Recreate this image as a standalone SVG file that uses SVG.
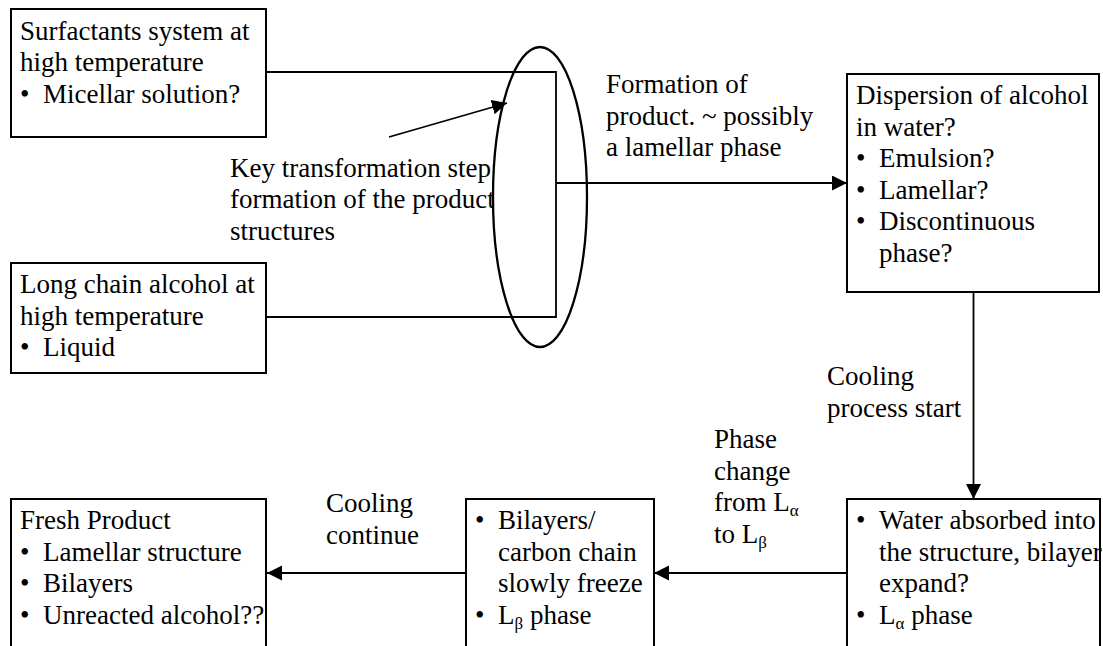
<svg xmlns="http://www.w3.org/2000/svg" width="1103" height="646" viewBox="0 0 1103 646">
<style>
text { font-family: "Liberation Serif", "Times New Roman", serif; font-size: 27px; fill: #000; }
.box { fill: #fff; stroke: #000; stroke-width: 2; }
.ln { fill: none; stroke: #000; stroke-width: 1.8; }
.sub { font-size: 17px; }
</style>
<defs>
<marker id="ah" markerUnits="userSpaceOnUse" markerWidth="16" markerHeight="16" refX="15" refY="7.5" orient="auto">
<path d="M0,0 L15,7.5 L0,15 z" fill="#000"/>
</marker>
<clipPath id="keyclip"><rect x="0" y="150" width="494" height="110"/></clipPath>
</defs>
<g id="connectors">
<polyline class="ln" points="266,72 556,72 556,317 266,317"/>
<line class="ln" x1="556" y1="183" x2="847" y2="183" marker-end="url(#ah)"/>
<line class="ln" x1="389" y1="137" x2="507" y2="103" marker-end="url(#ah)"/>
<line class="ln" x1="973.5" y1="292" x2="973.5" y2="499" marker-end="url(#ah)"/>
<line class="ln" x1="847" y1="573" x2="654" y2="573" marker-end="url(#ah)"/>
<line class="ln" x1="466" y1="573" x2="267" y2="573" marker-end="url(#ah)"/>
</g>
<g id="surfactants">
<rect class="box" x="11" y="9" width="255" height="128"/>
<text x="20" y="39.5">Surfactants system at</text>
<text x="20" y="71">high temperature</text>
<text x="20" y="102.5">•</text><text x="43" y="102.5">Micellar solution?</text>
</g>
<g id="alcohol">
<rect class="box" x="11" y="263" width="255" height="110"/>
<text x="20" y="293">Long chain alcohol at</text>
<text x="20" y="324.5">high temperature</text>
<text x="20" y="356">•</text><text x="43" y="356">Liquid</text>
</g>
<g id="key-step">
<g clip-path="url(#keyclip)">
<text x="230" y="176.5">Key transformation step:</text>
<text x="230" y="208">formation of the product</text>
</g>
<text x="230" y="239.5">structures</text>
<ellipse cx="540" cy="197" rx="47" ry="150" fill="none" stroke="#000" stroke-width="2.3"/>
</g>
<g id="formation-label">
<text x="606" y="93">Formation of</text>
<text x="606" y="124.5">product. ~ possibly</text>
<text x="606" y="156">a lamellar phase</text>
</g>
<g id="dispersion">
<rect class="box" x="847" y="74" width="252" height="218"/>
<text x="856" y="104">Dispersion of alcohol</text>
<text x="856" y="135.5">in water?</text>
<text x="856" y="167">•</text><text x="879" y="167">Emulsion?</text>
<text x="856" y="198.5">•</text><text x="879" y="198.5">Lamellar?</text>
<text x="856" y="230">•</text><text x="879" y="230">Discontinuous</text>
<text x="879" y="261.5">phase?</text>
</g>
<g id="cooling-start-label">
<text x="827" y="385">Cooling</text>
<text x="827" y="416.5">process start</text>
</g>
<g id="water-absorbed">
<rect class="box" x="847" y="499" width="253" height="170"/>
<text x="856" y="529">•</text><text x="879" y="529">Water absorbed into</text>
<text x="879" y="560.5">the structure, bilayer</text>
<text x="879" y="592">expand?</text>
<text x="856" y="623.5">•</text><text x="879" y="623.5">L<tspan class="sub" dy="5">α</tspan><tspan dy="-5"> phase</tspan></text>
</g>
<g id="phase-change-label">
<text x="714" y="448">Phase</text>
<text x="714" y="479.5">change</text>
<text x="714" y="511">from L<tspan class="sub" dy="5">α</tspan></text>
<text x="714" y="542.5">to L<tspan class="sub" dy="5">β</tspan></text>
</g>
<g id="bilayers-freeze">
<rect class="box" x="466" y="499" width="188" height="170"/>
<text x="475" y="529">•</text><text x="498" y="529">Bilayers/</text>
<text x="498" y="560.5">carbon chain</text>
<text x="498" y="592">slowly freeze</text>
<text x="475" y="623.5">•</text><text x="498" y="623.5">L<tspan class="sub" dy="5">β</tspan><tspan dy="-5"> phase</tspan></text>
</g>
<g id="cooling-continue-label">
<text x="326" y="512">Cooling</text>
<text x="326" y="543.5">continue</text>
</g>
<g id="fresh-product">
<rect class="box" x="11" y="499" width="255" height="170"/>
<text x="20" y="529">Fresh Product</text>
<text x="20" y="560.5">•</text><text x="43" y="560.5">Lamellar structure</text>
<text x="20" y="592">•</text><text x="43" y="592">Bilayers</text>
<text x="20" y="623.5">•</text><text x="43" y="623.5">Unreacted alcohol??</text>
</g>
</svg>
